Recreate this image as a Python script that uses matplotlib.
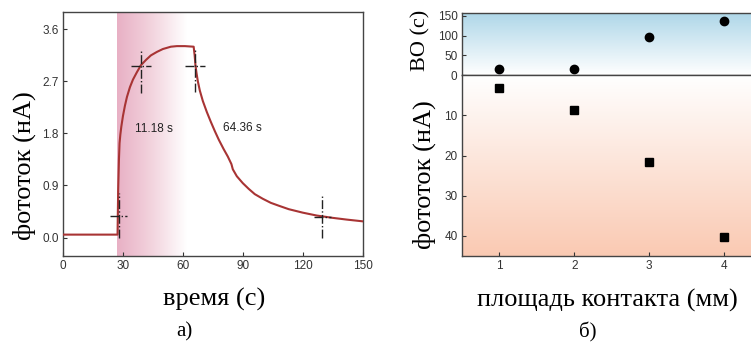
"""
Photocurrent response (a) and contact-area dependence (b)
"""

import numpy as np
import matplotlib.pyplot as plt
from matplotlib.colors import LinearSegmentedColormap

# a) photocurrent vs time
time = [0, 27.3, 27.6, 28.0, 28.3, 28.7, 29.2, 30.0, 31.0, 32.0, 33.5, 35.0,
        37.0, 39.0, 41.5, 44.0, 47.0, 50.0, 54.0, 57.0, 61.0, 65.4,
        65.9, 66.3, 66.8, 67.5, 68.5, 70.0, 72.0, 74.0, 76.0, 78.0, 80.4,
        82.5, 84.3, 85.0, 87.0, 90.0, 93.0, 96.0, 100.0, 104.0, 108.0,
        113.0, 120.0, 127.0, 135.0, 142.0, 150.0]
current = [0.05, 0.05, 0.8, 1.35, 1.63, 1.78, 1.92, 2.10, 2.28, 2.43, 2.60, 2.73,
           2.86, 2.98, 3.07, 3.15, 3.21, 3.26, 3.30, 3.31, 3.31, 3.30,
           3.15, 2.98, 2.85, 2.70, 2.54, 2.36, 2.17, 2.00, 1.84, 1.69, 1.53,
           1.40, 1.27, 1.18, 1.06, 0.94, 0.84, 0.75, 0.67, 0.60, 0.55,
           0.49, 0.43, 0.38, 0.34, 0.31, 0.28]

# crosshair markers (center, half width, vertical span)
cross_t = [27.8, 39.0, 66.2, 129.8]
cross_i = [0.37, 2.97, 2.97, 0.36]
cross_hw = [4.3, 5.0, 5.0, 4.2]
cross_lo = [0.0, 2.50, 2.52, 0.0]
cross_hi = [0.77, 3.24, 3.24, 0.73]

times_text = ['11.18 s', '64.36 s']
times_pos = [(45.3, 1.87), (90.0, 1.89)]

# b) vs contact area
area = [1, 2, 3, 4]
ro_time = [16, 16, 97, 137]
photocurrent = [3.2, 8.6, 21.6, 40.3]

serif = ['Liberation Serif', 'DejaVu Serif']
sans = ['Liberation Sans', 'DejaVu Sans']
plt.rcParams['font.family'] = sans
plt.rcParams['xtick.direction'] = 'in'
plt.rcParams['ytick.direction'] = 'in'
plt.rcParams['xtick.labelsize'] = 8.5
plt.rcParams['ytick.labelsize'] = 8.5
plt.rcParams['xtick.color'] = '#333333'
plt.rcParams['ytick.color'] = '#333333'
plt.rcParams['axes.edgecolor'] = '#444444'
plt.rcParams['axes.linewidth'] = 1.0

fig = plt.figure(figsize=(7.51, 3.43), dpi=100)

# ---------- a) ----------
ax = fig.add_axes([0.0839, 0.2536, 0.3990, 0.7114])
ax.set_xlim(0, 150)
ax.set_ylim(-0.32, 3.9)

pink = LinearSegmentedColormap.from_list(
    'pk', [(0.91, 0.69, 0.77), (0.95, 0.83, 0.87), (1, 1, 1)])
grad = np.linspace(0, 1, 256).reshape(1, -1)
ax.imshow(grad, cmap=pink, extent=[27.0, 62.0, -0.32, 3.9], aspect='auto',
          zorder=0, interpolation='bicubic')

ax.plot(time, current, color='#a83434', lw=1.5, zorder=3)

for t, c, hw, lo, hi in zip(cross_t, cross_i, cross_hw, cross_lo, cross_hi):
    ax.plot([t - hw, t + hw], [c, c], color='#222222', lw=1.0, ls='-.', zorder=4)
    ax.plot([t, t], [lo, hi], color='#222222', lw=1.0, ls='-.', zorder=4)

for s, (x, y) in zip(times_text, times_pos):
    ax.text(x, y, s, fontsize=8.5, ha='center', va='center', color='#222222')

ax.set_xticks([0, 30, 60, 90, 120, 150])
ax.set_yticks([0.0, 0.9, 1.8, 2.7, 3.6])
ax.set_yticklabels(['0.0', '0.9', '1.8', '2.7', '3.6'])
ax.tick_params(length=3, width=0.8, pad=3)

fig.text(24/751, 1 - 166/343, 'фототок (нА)', family=serif, fontsize=19,
         rotation=90, ha='center', va='center')
fig.text(214/751, 1 - 299/343, 'время (с)', family=serif, fontsize=19,
         ha='center', va='center')
fig.text(184/751, 1 - 332/343, 'а)', family=serif, fontsize=15,
         ha='center', va='center')

# ---------- b) ----------
axt = fig.add_axes([0.6148, 0.7805, 0.3995, 0.1825])
axb = fig.add_axes([0.6148, 0.2536, 0.3995, 0.5269])

blue = LinearSegmentedColormap.from_list('bl', [(1, 1, 1), (0.68, 0.84, 0.91)])
peach = LinearSegmentedColormap.from_list('pc', [(1, 1, 1), (0.98, 0.79, 0.70)])
vgrad = np.linspace(0, 1, 256).reshape(-1, 1)
axt.imshow(vgrad, cmap=blue, extent=[0, 1, 0, 1], transform=axt.transAxes,
           aspect='auto', origin='lower', zorder=0)
axb.imshow(vgrad, cmap=peach, extent=[0, 1, 0, 1], transform=axb.transAxes,
           aspect='auto', origin='upper', zorder=0)

axt.plot(area, ro_time, 'o', color='black', ms=6, zorder=3)
axb.plot(area, photocurrent, 's', color='black', ms=5.5, zorder=3)

axt.set_xlim(0.5, 4.5)
axb.set_xlim(0.5, 4.5)
axt.set_ylim(0, 157.5)
axb.set_ylim(45, 0)
axt.set_yticks([0, 50, 100, 150])
axb.set_yticks([10, 20, 30, 40])
axb.set_xticks([1, 2, 3, 4])
axt.set_xticks([])
for a in (axt, axb):
    a.tick_params(length=3, width=0.8, pad=3)

fig.text(421/751, 1 - 40/343, 'ВО (с)', family=serif, fontsize=16,
         rotation=90, ha='center', va='center')
fig.text(424/751, 1 - 175/343, 'фототок (нА)', family=serif, fontsize=19,
         rotation=90, ha='center', va='center')
fig.text(607/751, 1 - 300/343, 'площадь контакта (мм)', family=serif, fontsize=19,
         ha='center', va='center')
fig.text(588/751, 1 - 332/343, 'б)', family=serif, fontsize=15,
         ha='center', va='center')

fig.savefig('out.png', dpi=100)
